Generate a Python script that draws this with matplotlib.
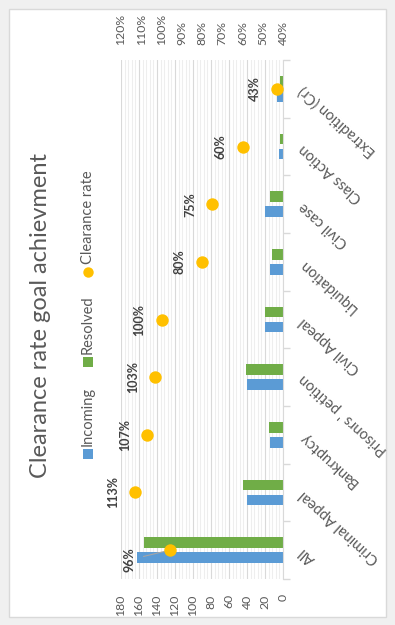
import matplotlib
matplotlib.use("Agg")
import matplotlib.pyplot as plt
from matplotlib.lines import Line2D
from matplotlib.patches import Rectangle
from matplotlib.ticker import MultipleLocator, FixedLocator

plt.rcParams['font.family'] = ['Lato', 'DejaVu Sans']

categories = ['All', 'Criminal Appeal', 'Bankruptcy', "Prisonrs ' petition",
              'Civil Appeal', 'Liquidation', 'Civil case', 'Class Action',
              'Extradition (Cr)']
incoming = [162, 40, 15, 40, 20, 15, 20, 5, 7]
resolved = [155, 45, 16, 41, 20, 12, 15, 3, 3]
rate_pct = [96, 113, 107, 103, 100, 80, 75, 60, 43]

BLUE = '#5B9BD5'
GREEN = '#70AD47'
GOLD = '#FFC000'
TXT = '#595959'
GRID = '#d9d9d9'

W, H = 395, 625


def fx(px):
    return px / W


def fy(py):
    return 1 - py / H


fig = plt.figure(figsize=(W / 100, H / 100), dpi=100, facecolor='#f0f0f0')
# white chart panel
fig.add_artist(Rectangle((fx(9), fy(617)), (386 - 9) / W, (617 - 9) / H,
                         transform=fig.transFigure, facecolor='white',
                         edgecolor='#d9d9d9', lw=1, zorder=0))

# chart drawn turned on its side: counts run right-to-left, categories bottom-to-top
ax = fig.add_axes([fx(121), fy(579), (283 - 121) / W, (579 - 60) / H])
ax.set_facecolor('none')
y = list(range(len(categories)))
off, bh = 0.13, 0.19
ax.barh([i - off for i in y], incoming, height=bh, color=BLUE, zorder=2)
ax.barh([i + off for i in y], resolved, height=bh, color=GREEN, zorder=2)

ax.set_xlim(180, 0)
ax.set_ylim(-0.5, len(categories) - 0.5)
ax.xaxis.set_major_locator(MultipleLocator(20))
ax.xaxis.set_minor_locator(MultipleLocator(4))
ax.grid(axis='x', which='major', color=GRID, lw=0.8)
ax.grid(axis='x', which='minor', color='#eeeeee', lw=0.8)
ax.set_axisbelow(True)
ax.tick_params(axis='x', which='both', length=0, pad=11, labelsize=8.8,
               labelcolor=TXT, labelrotation=90)

ax.yaxis.tick_right()
ax.set_yticks(y)
ax.set_yticklabels(categories)
ax.yaxis.set_minor_locator(FixedLocator([i - 0.5 for i in range(len(categories) + 1)]))
ax.tick_params(axis='y', which='major', length=0, pad=13, labelsize=10.5, labelcolor=TXT)
ax.tick_params(axis='y', which='minor', length=5, color=GRID, width=1)
for lab in ax.get_yticklabels():
    lab.set_rotation(138)
    lab.set_rotation_mode('anchor')
    lab.set_ha('right')
    lab.set_va('center')

for s in ['top', 'bottom', 'left']:
    ax.spines[s].set_visible(False)
ax.spines['right'].set_color(GRID)

# clearance rate on the secondary scale
ax2 = ax.twiny()
ax2.set_xlim(1.2, 0.4)
ax2.set_xticks([0.4 + 0.1 * k for k in range(9)])
ax2.set_xticklabels([f'{40 + 10 * k}%' for k in range(9)])
ax2.tick_params(axis='x', length=0, pad=11, labelsize=8.8, labelcolor=TXT,
                labelrotation=90)
for s in ax2.spines.values():
    s.set_visible(False)
rates = [r / 100 for r in rate_pct]
ax2.scatter(rates, y, s=80, color=GOLD, zorder=4, linewidths=0)

for i, r in enumerate(rate_pct):
    if i == 0:
        ax2.annotate(f'{r}%', xy=(rates[i], i), xytext=(-29, -7),
                     textcoords='offset points', rotation=90, ha='center',
                     va='center', fontsize=9, fontweight='bold', color='#404040',
                     arrowprops=dict(arrowstyle='-', color='#a6a6a6', lw=0.8,
                                     shrinkA=4, shrinkB=1))
    else:
        ax2.annotate(f'{r}%', xy=(rates[i], i), xytext=(-16, 0),
                     textcoords='offset points', rotation=90, ha='center',
                     va='center', fontsize=9, fontweight='bold', color='#404040')

# title and legend
fig.text(fx(41), fy(315), 'Clearance rate goal achievment', rotation=90,
         ha='center', va='center', fontsize=17, color=TXT)

leg = [('Incoming', 's', BLUE, 454, 446),
       ('Resolved', 's', GREEN, 362, 354),
       ('Clearance rate', 'o', GOLD, 272, 264)]
for name, mk, col, my, ty in leg:
    fig.add_artist(Line2D([fx(88)], [fy(my)], marker=mk, color=col, markersize=7.5,
                          markeredgewidth=0, transform=fig.transFigure))
    fig.text(fx(88), fy(ty), name, rotation=90, ha='center', va='bottom',
             fontsize=10.5, color=TXT)

fig.savefig('out.png', dpi=100, facecolor=fig.get_facecolor())
